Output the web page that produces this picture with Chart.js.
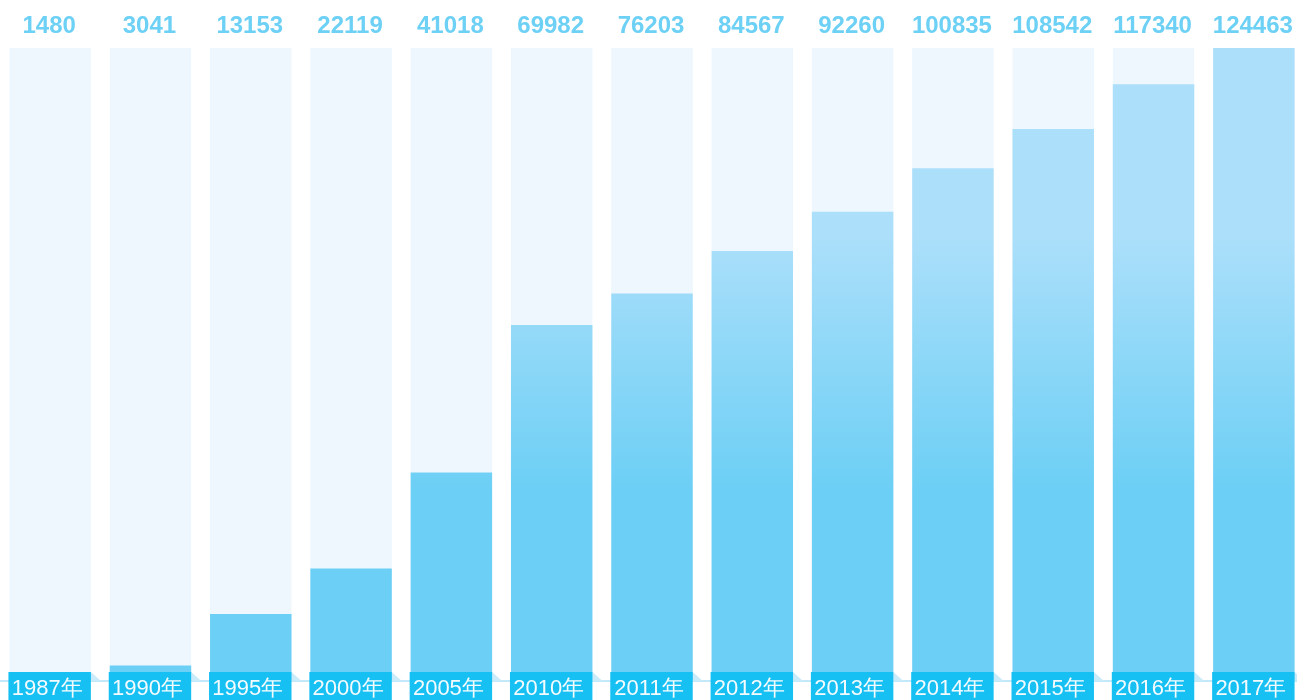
<!DOCTYPE html>
<html>
<head>
<meta charset="utf-8">
<script src="https://cdn.jsdelivr.net/npm/chart.js@4/dist/chart.umd.min.js"></script>
<style>
    html, body { margin: 0; padding: 0; background: #fff; overflow: hidden; }
    #wrap { position: relative; width: 1304px; height: 700px; }
</style>
</head>
<body>
<div id="wrap"><canvas id="myChart"></canvas></div>
<script>
// dados do gráfico
var anos = ['1987年', '1990年', '1995年', '2000年', '2005年', '2010年', '2011年', '2012年', '2013年', '2014年', '2015年', '2016年', '2017年'];
var valores = [1480, 3041, 13153, 22119, 41018, 69982, 76203, 84567, 92260, 100835, 108542, 117340, 124463];
var maximo = 124463;
var fundo = anos.map(function() { return maximo; });

document.addEventListener("DOMContentLoaded", function() {

    // gradiente das barras (claro em cima, azul embaixo)
    function corBarra(context) {
        var chart = context.chart;
        var area = chart.chartArea;
        if (!area) return '#6ccff5';
        var g = chart.ctx.createLinearGradient(0, area.top, 0, area.bottom);
        g.addColorStop(0, '#abdffa');
        g.addColorStop(0.30, '#abdffa');
        g.addColorStop(0.70, '#6ccff5');
        g.addColorStop(1, '#6ccff5');
        return g;
    }

    // rótulos de valor e caixas dos anos
    var rotulos = {
        id: 'rotulos',
        afterDatasetsDraw: function(chart) {
            var ctx = chart.ctx;
            var meta = chart.getDatasetMeta(1);
            var area = chart.chartArea;
            ctx.save();

            // linha do eixo
            ctx.fillStyle = '#c2e8f9';
            ctx.fillRect(0, area.bottom - 1, chart.width, 2);

            meta.data.forEach(function(bar, i) {
                var esq = bar.x - bar.width / 2;
                var dir = bar.x + bar.width / 2;

                // valor no topo
                ctx.fillStyle = '#6dd0f5';
                ctx.font = 'bold 24px "Liberation Sans", Arial, sans-serif';
                ctx.textAlign = 'center';
                ctx.textBaseline = 'alphabetic';
                ctx.fillText(valores[i], bar.x - 1, 33);

                // dobra da fita
                ctx.fillStyle = '#c9ebfa';
                ctx.beginPath();
                ctx.moveTo(dir, 672);
                ctx.lineTo(dir + 10, area.bottom);
                ctx.lineTo(dir, area.bottom);
                ctx.closePath();
                ctx.fill();

                // caixa do ano
                ctx.fillStyle = '#17c0f3';
                ctx.fillRect(esq - 1, 672, dir - esq + 1, 28);
                ctx.fillStyle = '#f4fbff';
                ctx.font = '22px "Liberation Sans", Arial, sans-serif';
                ctx.fillText(anos[i], bar.x - 3, 695);
            });
            ctx.restore();
        }
    };

    var ctx = document.getElementById('myChart').getContext('2d');
    var grafico = new Chart(ctx, {
        type: 'bar',
        data: {
            labels: anos,
            datasets: [{
                label: 'fundo',
                data: fundo,
                backgroundColor: '#eef7fd',
                borderWidth: 0,
                order: 2
            }, {
                label: 'valores',
                data: valores,
                backgroundColor: corBarra,
                borderWidth: 0,
                order: 1
            }]
        },
        options: {
            responsive: true,
            maintainAspectRatio: false,
            animation: false,
            layout: { padding: { top: 48, bottom: 19, left: 0, right: 0 } },
            datasets: {
                bar: { grouped: false, barPercentage: 0.812, categoryPercentage: 1 }
            },
            plugins: {
                legend: { display: false },
                tooltip: { enabled: false }
            },
            scales: {
                x: { display: false },
                y: { display: false, min: 0, max: maximo }
            }
        },
        plugins: [rotulos]
    });
});
</script>
</body>
</html>
